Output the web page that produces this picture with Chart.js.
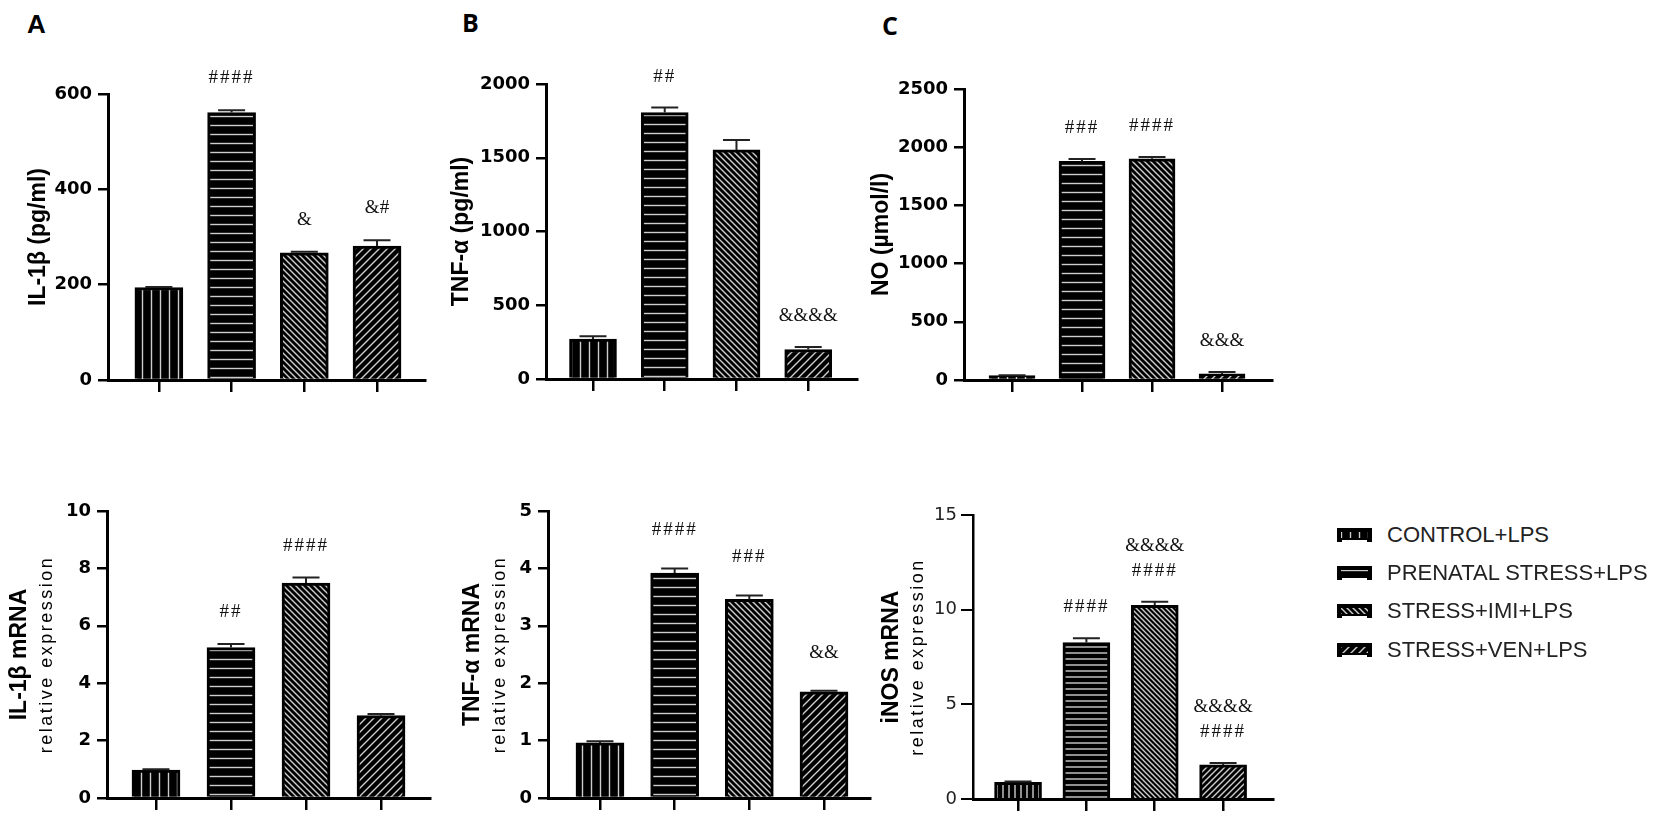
<!DOCTYPE html>
<html><head><meta charset="utf-8">
<script src="https://cdn.jsdelivr.net/npm/chart.js@4.4.0/dist/chart.umd.min.js"></script>
<style>
html,body{margin:0;padding:0;background:#fff;}
#wrap{position:relative;width:1654px;height:816px;overflow:hidden;background:#fff;}
canvas.panel{position:absolute;}
.plabel{position:absolute;font-weight:700;font-size:25px;line-height:1;color:#000;}
.litem{position:absolute;left:1337px;height:22px;display:flex;align-items:center;white-space:nowrap;}
.litem canvas{width:35px;height:14px;margin-right:15px;display:block;}
.litem span{font-family:"Liberation Sans",Arial,sans-serif;font-size:22px;color:#222;line-height:22px;}
</style></head><body><div id="wrap">
<div class="plabel" style="left:27px;top:11px;font-family:'Liberation Sans',Arial,sans-serif;font-size:26px;">A</div>
<div class="plabel" style="left:462px;top:10px;font-family:'Open Sans',sans-serif;">B</div>
<div class="plabel" style="left:882px;top:13px;font-family:'Open Sans',sans-serif;">C</div>
</div>
<script>
// ---------------- DATA ----------------
const groups = ['CONTROL+LPS', 'PRENATAL STRESS+LPS', 'STRESS+IMI+LPS', 'STRESS+VEN+LPS'];
const positions = [0, 1, 2, 3];

const il1bProtein = [194, 561, 267, 281];
const il1bProteinErr = [1, 5, 2, 12];
const il1bProteinSig = ['', '####', '&', '&#'];

const tnfProtein = [271, 1806, 1553, 200];
const tnfProteinErr = [18, 34, 68, 17];
const tnfProteinSig = ['', '##', '', '&&&&'];

const noLevel = [37, 1878, 1901, 52];
const noLevelErr = [3, 20, 14, 17];
const noLevelSig = ['', '###', '####', '&&&'];

const il1bMrna = [0.97, 5.24, 7.49, 2.87];
const il1bMrnaErr = [0.03, 0.13, 0.19, 0.06];
const il1bMrnaSig = ['', '##', '####', ''];

const tnfMrna = [0.96, 3.92, 3.46, 1.85];
const tnfMrnaErr = [0.03, 0.08, 0.07, 0.02];
const tnfMrnaSig = ['', '####', '###', '&&'];

const inosMrna = [0.88, 8.26, 10.23, 1.80];
const inosMrnaErr = [0.04, 0.23, 0.19, 0.10];
const inosMrnaSig = [[], ['####'], ['&&&&', '####'], ['&&&&', '####']];

// ---------------- PATTERNS ----------------
function makePattern(kind, s) {
  const c = document.createElement('canvas');
  c.width = s; c.height = s;
  const x = c.getContext('2d');
  x.fillStyle = '#000'; x.fillRect(0, 0, s, s);
  x.strokeStyle = '#cdcdcd'; x.lineWidth = 1.4; x.beginPath();
  if (kind === 'v') { x.moveTo(s / 2, 0); x.lineTo(s / 2, s); }
  else if (kind === 'h') { x.moveTo(0, s / 2); x.lineTo(s, s / 2); }
  else if (kind === 'b') {
    x.moveTo(-1, -1); x.lineTo(s + 1, s + 1);
    x.moveTo(-1, s - 1); x.lineTo(1, s + 1);
    x.moveTo(s - 1, -1); x.lineTo(s + 1, 1);
  } else {
    x.moveTo(-1, s + 1); x.lineTo(s + 1, -1);
    x.moveTo(-1, 1); x.lineTo(1, -1);
    x.moveTo(s - 1, s + 1); x.lineTo(s + 1, s - 1);
  }
  x.stroke();
  return x.createPattern(c, 'repeat');
}
const patternsStd = [makePattern('v', 9), makePattern('h', 9), makePattern('b', 6), makePattern('f', 8)];
const patternsDense = [makePattern('v', 6), makePattern('h', 6), makePattern('b', 5), makePattern('f', 6)];

// ---------------- PLUGIN ----------------
const decorPlugin = {
  id: 'decor',
  afterDatasetsDraw(chart, args, o) {
    const ctx = chart.ctx;
    const ds = chart.data.datasets[0];
    const meta = chart.getDatasetMeta(0);
    const y = chart.scales.y;
    ctx.save();
    meta.data.forEach((bar, i) => {
      const v = ds.data[i].y, e = ds.errors[i];
      const base = y.getPixelForValue(v);
      const top = y.getPixelForValue(v + e);
      ctx.strokeStyle = '#222'; ctx.lineWidth = 2;
      ctx.beginPath();
      ctx.moveTo(bar.x, base); ctx.lineTo(bar.x, top);
      ctx.moveTo(bar.x - o.capW / 2, top); ctx.lineTo(bar.x + o.capW / 2, top);
      ctx.stroke();
      const lines = [].concat(ds.sig[i]).filter(Boolean);
      ctx.fillStyle = '#111';
      ctx.font = '19px "Liberation Serif", "Times New Roman", serif';
      ctx.textAlign = 'center'; ctx.textBaseline = 'middle';
      for (let k = 0; k < lines.length; k++) {
        const yy = top - o.sigOff - (lines.length - 1 - k) * 25;
        try { ctx.letterSpacing = /^#+$/.test(lines[k]) ? '2px' : '0px'; } catch (err) {}
        ctx.fillText(lines[k], bar.x, yy);
      }
    });
    ctx.restore();
  },
  afterDraw(chart, args, o) {
    const ctx = chart.ctx;
    const a = chart.chartArea;
    const cy = (a.top + a.bottom) / 2;
    ctx.save();
    o.titles.forEach((t, k) => {
      ctx.save();
      ctx.translate(a.left - o.titleDx[k], cy);
      ctx.rotate(-Math.PI / 2);
      ctx.textAlign = 'center'; ctx.textBaseline = 'middle';
      ctx.fillStyle = '#000';
      if (k === 0) {
        ctx.font = 'bold 23px "Liberation Sans", Arial, sans-serif';
        try { ctx.letterSpacing = '0px'; } catch (e) {}
      } else {
        ctx.font = '18px "Liberation Sans", Arial, sans-serif';
        try { ctx.letterSpacing = '2.5px'; } catch (e) {}
      }
      ctx.fillText(t, 0, 0);
      ctx.restore();
    });
    ctx.restore();
  }
};

// ---------------- PANELS ----------------
const panels = [
  { values: il1bProtein, errors: il1bProteinErr, sig: il1bProteinSig, L: 108, R: 425, T: 94, B: 380,
    xMin: -0.70, xMax: 3.66, yMax: 600, step: 200, bw: 48, titles: ['IL-1β (pg/ml)'], titleDx: [69], sigOff: 32 },
  { values: tnfProtein, errors: tnfProteinErr, sig: tnfProteinSig, L: 546, R: 857, T: 84, B: 379,
    xMin: -0.655, xMax: 3.68, yMax: 2000, step: 500, bw: 47, titles: ['TNF-α (pg/ml)'], titleDx: [84], sigOff: 31 },
  { values: noLevel, errors: noLevelErr, sig: noLevelSig, L: 964, R: 1272, T: 89, B: 380,
    xMin: -0.686, xMax: 3.714, yMax: 2500, step: 500, bw: 46, titles: ['NO (µmol/l)'], titleDx: [82], sigOff: 31 },
  { values: il1bMrna, errors: il1bMrnaErr, sig: il1bMrnaSig, L: 107, R: 430, T: 511, B: 798,
    xMin: -0.653, xMax: 3.653, yMax: 10, step: 2, bw: 48, titles: ['IL-1β mRNA', 'relative expression'], titleDx: [87, 60], sigOff: 32 },
  { values: tnfMrna, errors: tnfMrnaErr, sig: tnfMrnaSig, L: 548, R: 870, T: 511, B: 798,
    xMin: -0.696, xMax: 3.616, yMax: 5, step: 1, bw: 48, titles: ['TNF-α mRNA', 'relative expression'], titleDx: [75, 48], sigOff: 38 },
  { values: inosMrna, errors: inosMrnaErr, sig: inosMrnaSig, L: 973, R: 1273, T: 515, B: 799,
    xMin: -0.659, xMax: 3.73, yMax: 15, step: 5, bw: 47, titles: ['iNOS mRNA', 'relative expression'], titleDx: [81, 55], sigOff: 31,
    light: true }
];

const wrap = document.getElementById('wrap');
panels.forEach(p => {
  const cv = document.createElement('canvas');
  cv.className = 'panel';
  const w = p.R - p.L + 115, h = p.B - p.T + 70;
  cv.width = w; cv.height = h;
  cv.style.width = w + 'px'; cv.style.height = h + 'px';
  cv.style.left = (p.L - 105) + 'px'; cv.style.top = (p.T - 45) + 'px';
  wrap.appendChild(cv);
  const pats = p.light ? patternsDense : patternsStd;
  new Chart(cv, {
    type: 'bar',
    data: {
      datasets: [{
        label: 'groups',
        data: positions.map((x, i) => ({ x: x, y: p.values[i] })),
        errors: p.errors,
        sig: p.sig,
        backgroundColor: pats,
        borderColor: '#000',
        borderWidth: 3,
        borderSkipped: 'start',
        barThickness: p.bw
      }]
    },
    options: {
      responsive: false,
      animation: false,
      devicePixelRatio: 1,
      layout: { padding: { left: 5, top: 45, right: 10, bottom: 0 } },
      plugins: {
        legend: { display: false },
        tooltip: { enabled: false },
        decor: { capW: 27, sigOff: p.sigOff, titles: p.titles, titleDx: p.titleDx }
      },
      scales: {
        x: {
          type: 'linear', min: p.xMin, max: p.xMax, offset: false,
          grid: { display: true, drawOnChartArea: false, drawTicks: true, tickLength: 12, lineWidth: 2.5, color: '#000', offset: false },
          border: { display: true, color: '#000', width: 3 },
          ticks: { autoSkip: false, callback: () => '', padding: 0 },
          afterBuildTicks: ax => { ax.ticks = positions.map(v => ({ value: v })); },
          afterFit: ax => { ax.height = 25; }
        },
        y: {
          min: 0, max: p.yMax,
          grid: { drawOnChartArea: false, drawTicks: true, tickLength: p.light ? 12 : 10, lineWidth: p.light ? 2 : 2.5, color: '#000' },
          border: { display: true, color: '#000', width: p.light ? 2.5 : 3 },
          ticks: {
            stepSize: p.step, color: p.light ? '#222' : '#000', padding: p.light ? 4 : 6,
            callback: v => String(v),
            font: { family: '"DejaVu Sans", sans-serif', size: 18, weight: p.light ? 'normal' : 'bold' }
          },
          afterFit: ax => { ax.width = 100; }
        }
      }
    },
    plugins: [decorPlugin]
  });
});

// ---------------- LEGEND ----------------
const legendY = [535, 573, 611, 650];
groups.forEach((g, i) => {
  const d = document.createElement('div');
  d.className = 'litem';
  d.style.top = (legendY[i] - 11) + 'px';
  const c = document.createElement('canvas');
  c.width = 35; c.height = 14;
  const x = c.getContext('2d');
  x.fillStyle = '#000'; x.fillRect(0, 0, 35, 14);
  x.fillStyle = patternsStd[i]; x.fillRect(4, 4, 27, 6);
  x.fillStyle = '#fff'; x.fillRect(5, 12, 25, 2);
  const s = document.createElement('span');
  s.textContent = g;
  d.appendChild(c); d.appendChild(s);
  wrap.appendChild(d);
});
</script>
</body></html>
